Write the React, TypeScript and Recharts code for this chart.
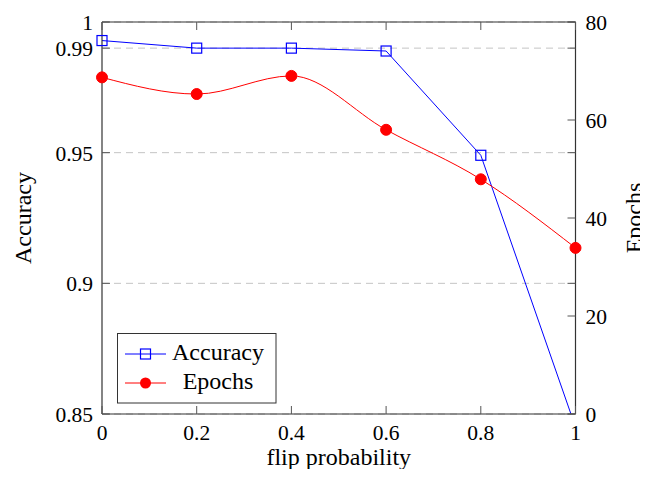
import React from 'react';
import { LineChart, Line, XAxis, YAxis, CartesianGrid, ReferenceLine, Legend, Label } from 'recharts';

const flipProbabilities = [0, 0.2, 0.4, 0.6, 0.8, 1];
const accuracyValues = [0.9929, 0.99, 0.99, 0.9889, 0.949, 0.845];
const epochValues = [68.7, 65.3, 69.0, 58.0, 47.9, 33.9];
const xTicks = [0, 0.2, 0.4, 0.6, 0.8, 1];
const accuracyTicks = [0.85, 0.9, 0.95, 0.99, 1];
const epochTicks = [0, 20, 40, 60, 80];
const seriesNames = ['Accuracy', 'Epochs'];

const data = flipProbabilities.map((p, i) => ({ p, accuracy: accuracyValues[i], epochs: epochValues[i] }));

const W = 648;
const H = 477;
const TOP = 22;
const LEFT_W = 102;
const RIGHT_W = 72.5;
const PLOT_H = 392;
const X_H = H - TOP - PLOT_H;
const PLOT_W = W - LEFT_W - RIGHT_W;
const FONT = '"Liberation Serif", "Times New Roman", serif';
const TICK_FS = 21.5;
const LABEL_FS = 24;
const TICK_LEN = 8;
const TICK_COLOR = '#555';
const FRAME = '#333';
const BLUE = '#0000ff';
const RED = '#ff0000';
const textStyle = { fontFamily: FONT };

const XTick = (props: any) => {
  const { x, y, payload } = props;
  return (
    <g>
      <line x1={x} y1={y} x2={x} y2={y - TICK_LEN} stroke={TICK_COLOR} strokeWidth={1} />
      <line x1={x} y1={y - PLOT_H} x2={x} y2={y - PLOT_H + TICK_LEN} stroke={TICK_COLOR} strokeWidth={1} />
      <text x={x} y={y + 26} textAnchor="middle" style={textStyle} fontSize={TICK_FS} fill="#000">
        {String(payload.value)}
      </text>
    </g>
  );
};

const LeftTick = (props: any) => {
  const { x, y, payload } = props;
  return (
    <g>
      <line x1={x} y1={y} x2={x + TICK_LEN} y2={y} stroke={TICK_COLOR} strokeWidth={1} />
      <line x1={x + PLOT_W} y1={y} x2={x + PLOT_W - TICK_LEN} y2={y} stroke={TICK_COLOR} strokeWidth={1} />
      <text x={x - 9} y={y + 8} textAnchor="end" style={textStyle} fontSize={TICK_FS} fill="#000">
        {String(payload.value)}
      </text>
    </g>
  );
};

const RightTick = (props: any) => {
  const { x, y, payload } = props;
  return (
    <g>
      <line x1={x} y1={y} x2={x - TICK_LEN} y2={y} stroke={TICK_COLOR} strokeWidth={1} />
      <text x={x + 10} y={y + 8} textAnchor="start" style={textStyle} fontSize={TICK_FS} fill="#000">
        {String(payload.value)}
      </text>
    </g>
  );
};

const SquareDot = (props: any) => {
  const { cx, cy, value } = props;
  if (cx == null || cy == null || value < accuracyTicks[0]) return <g key={props.index} />;
  return <rect key={props.index} x={cx - 5} y={cy - 5} width={10} height={10} fill="none" stroke={BLUE} strokeWidth={1.2} />;
};

const CircleDot = (props: any) => {
  const { cx, cy } = props;
  if (cx == null || cy == null) return <g key={props.index} />;
  return <circle key={props.index} cx={cx} cy={cy} r={5.5} fill={RED} stroke={RED} />;
};

const LegendBox = () => (
  <svg width={160} height={71} style={{ display: 'block' }}>
    <rect x={0.5} y={0.5} width={158.5} height={69.5} fill="#fff" stroke={FRAME} strokeWidth={1} />
    <line x1={8} y1={21} x2={49} y2={21} stroke={BLUE} strokeWidth={1} />
    <rect x={23.5} y={16} width={10} height={10} fill="none" stroke={BLUE} strokeWidth={1.2} />
    <text x={101} y={26.5} textAnchor="middle" style={textStyle} fontSize={LABEL_FS} fill="#000">{seriesNames[0]}</text>
    <line x1={8} y1={50} x2={49} y2={50} stroke={RED} strokeWidth={1} />
    <circle cx={28.5} cy={50} r={5.5} fill={RED} />
    <text x={101} y={55.5} textAnchor="middle" style={textStyle} fontSize={LABEL_FS} fill="#000">{seriesNames[1]}</text>
  </svg>
);

const rotatedLabel = (cx: number, text: string) => (p: any) => {
  const vb = p.viewBox || {};
  const cy = (vb.y ?? TOP) + (vb.height ?? PLOT_H) / 2;
  return (
    <text x={cx} y={cy} transform={`rotate(-90, ${cx}, ${cy})`} textAnchor="middle" style={textStyle} fontSize={LABEL_FS} fill="#000" dy={8}>
      {text}
    </text>
  );
};

export default function App() {
  return (
    <div style={{ width: W, height: H, margin: -8, fontFamily: FONT, overflow: 'hidden' }}>
      <LineChart width={W} height={H} data={data} margin={{ top: TOP, right: 0, left: 0, bottom: 0 }} style={{ fontFamily: FONT }}>
        <CartesianGrid yAxisId="left" vertical={false} stroke="#c4c4c4" strokeDasharray="7 5" />
        <XAxis
          dataKey="p"
          type="number"
          domain={[0, 1]}
          ticks={xTicks}
          interval={0}
          height={X_H}
          tickSize={0}
          tickMargin={0}
          tickLine={false}
          tick={<XTick />}
          axisLine={{ stroke: FRAME, strokeWidth: 1.2 }}
        >
          <Label
            content={(p: any) => {
              const vb = p.viewBox;
              return (
                <text x={vb.x + vb.width / 2} y={vb.y + 51} textAnchor="middle" style={textStyle} fontSize={LABEL_FS} fill="#000">
                  flip probability
                </text>
              );
            }}
          />
        </XAxis>
        <YAxis
          yAxisId="left"
          orientation="left"
          type="number"
          domain={[0.85, 1]}
          ticks={accuracyTicks}
          interval={0}
          allowDataOverflow
          width={LEFT_W}
          tickSize={0}
          tickMargin={0}
          tickLine={false}
          tick={<LeftTick />}
          axisLine={{ stroke: FRAME, strokeWidth: 1.2 }}
        >
          <Label content={rotatedLabel(22.5, 'Accuracy')} />
        </YAxis>
        <YAxis
          yAxisId="right"
          orientation="right"
          type="number"
          domain={[0, 80]}
          ticks={epochTicks}
          interval={0}
          width={RIGHT_W}
          tickSize={0}
          tickMargin={0}
          tickLine={false}
          tick={<RightTick />}
          axisLine={{ stroke: FRAME, strokeWidth: 1.2 }}
        >
          <Label content={rotatedLabel(W - RIGHT_W + 58, 'Epochs')} />
        </YAxis>
        <ReferenceLine yAxisId="left" y={1} stroke={FRAME} strokeWidth={1.2} />
        <Line
          yAxisId="left"
          type="linear"
          dataKey="accuracy"
          name={seriesNames[0]}
          stroke={BLUE}
          strokeWidth={1}
          dot={<SquareDot />}
          activeDot={false}
          isAnimationActive={false}
        />
        <Line
          yAxisId="right"
          type="monotone"
          dataKey="epochs"
          name={seriesNames[1]}
          stroke={RED}
          strokeWidth={1}
          dot={<CircleDot />}
          activeDot={false}
          isAnimationActive={false}
        />
        <Legend
          layout="horizontal"
          verticalAlign="middle"
          align="center"
          content={() => <LegendBox />}
          wrapperStyle={{ position: 'absolute', left: 117.3, top: 333.3, width: 160, height: 71 }}
        />
      </LineChart>
    </div>
  );
}
